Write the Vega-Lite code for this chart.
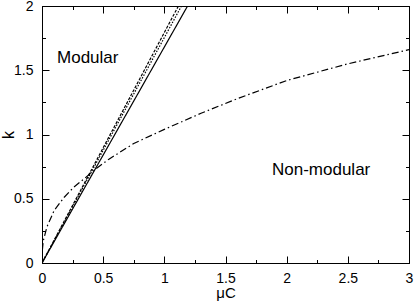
{
  "$schema": "https://vega.github.io/schema/vega-lite/v6.json",
  "width": 367,
  "height": 257,
  "autosize": "none",
  "padding": {"left": 42, "top": 6, "right": 6, "bottom": 38},
  "background": "white",
  "config": {
    "view": {"stroke": "black", "strokeWidth": 1},
    "font": "Liberation Sans",
    "axis": {
      "domainColor": "black",
      "tickColor": "black",
      "grid": false,
      "labelFont": "Liberation Sans",
      "labelFontSize": 14,
      "labelColor": "black",
      "titleFont": "Liberation Sans",
      "titleFontSize": 16,
      "titleFontWeight": "normal",
      "titleColor": "black"
    }
  },
  "datasets": {
    "lines": [
      {"mu": 0, "k": 0, "s": "solid"},
      {"mu": 1.19, "k": 2, "s": "solid"},
      {"mu": 0, "k": 0, "s": "dashA"},
      {"mu": 1.115, "k": 2, "s": "dashA"},
      {"mu": 0, "k": 0, "s": "dashB"},
      {"mu": 1.14, "k": 2, "s": "dashB"},
      {"mu": 0.003, "k": 0.1, "s": "dashdot"},
      {"mu": 0.01, "k": 0.17, "s": "dashdot"},
      {"mu": 0.04, "k": 0.28, "s": "dashdot"},
      {"mu": 0.1, "k": 0.41, "s": "dashdot"},
      {"mu": 0.18, "k": 0.51, "s": "dashdot"},
      {"mu": 0.26, "k": 0.59, "s": "dashdot"},
      {"mu": 0.35, "k": 0.66, "s": "dashdot"},
      {"mu": 0.45, "k": 0.74, "s": "dashdot"},
      {"mu": 0.55, "k": 0.81, "s": "dashdot"},
      {"mu": 0.75, "k": 0.93, "s": "dashdot"},
      {"mu": 1.0, "k": 1.04, "s": "dashdot"},
      {"mu": 1.3, "k": 1.165, "s": "dashdot"},
      {"mu": 1.6, "k": 1.28, "s": "dashdot"},
      {"mu": 2.0, "k": 1.42, "s": "dashdot"},
      {"mu": 2.5, "k": 1.55, "s": "dashdot"},
      {"mu": 3.0, "k": 1.66, "s": "dashdot"}
    ],
    "labels": [
      {"mu": 0.123, "k": 1.595, "t": "Modular"},
      {"mu": 1.88, "k": 0.724, "t": "Non-modular"}
    ]
  },
  "layer": [
    {
      "data": {"name": "lines"},
      "mark": {"type": "line", "color": "black", "strokeWidth": 1.2, "clip": true},
      "encoding": {
        "x": {
          "field": "mu", "type": "quantitative",
          "scale": {"domain": [0, 3], "nice": false, "zero": false},
          "axis": {
            "orient": "bottom",
            "title": "μC",
            "titleFontSize": 15,
            "titlePadding": -3,
            "values": [0, 0.25, 0.5, 0.75, 1, 1.25, 1.5, 1.75, 2, 2.25, 2.5, 2.75, 3],
            "labelExpr": "datum.value % 0.5 === 0 ? '' + datum.value : ''",
            "tickSize": {"condition": {"test": "datum.value % 0.5 === 0", "value": -7}, "value": -3.5},
            "labelPadding": 15,
            "labelFlush": false,
            "labelOverlap": false
          }
        },
        "y": {
          "field": "k", "type": "quantitative",
          "scale": {"domain": [0, 2], "nice": false, "zero": false},
          "axis": {
            "orient": "left",
            "title": "k",
            "titleAngle": -90,
            "titlePadding": -3,
            "values": [0, 0.25, 0.5, 0.75, 1, 1.25, 1.5, 1.75, 2],
            "labelExpr": "datum.value % 0.5 === 0 ? '' + datum.value : ''",
            "tickSize": {"condition": {"test": "datum.value % 0.5 === 0", "value": -7}, "value": -3.5},
            "labelPadding": 16,
            "labelFlush": false,
            "labelOverlap": false
          }
        },
        "detail": {"field": "s", "type": "nominal"},
        "strokeDash": {
          "field": "s", "type": "nominal",
          "scale": {"domain": ["solid", "dashA", "dashB", "dashdot"], "range": [[1, 0], [3, 1.5], [1.5, 1.5], [7, 3, 1.5, 3]]},
          "legend": null
        }
      }
    },
    {
      "data": {"name": "labels"},
      "mark": {"type": "text", "align": "left", "baseline": "middle", "fontSize": 17, "font": "Liberation Sans", "color": "black"},
      "encoding": {
        "x": {
          "field": "mu", "type": "quantitative",
          "scale": {"domain": [0, 3], "nice": false, "zero": false},
          "axis": {
            "orient": "top",
            "title": null,
            "labels": false,
            "values": [0, 0.25, 0.5, 0.75, 1, 1.25, 1.5, 1.75, 2, 2.25, 2.5, 2.75, 3],
            "tickSize": {"condition": {"test": "datum.value % 0.5 === 0", "value": -7}, "value": -3.5}
          }
        },
        "y": {
          "field": "k", "type": "quantitative",
          "scale": {"domain": [0, 2], "nice": false, "zero": false},
          "axis": {
            "orient": "right",
            "title": null,
            "labels": false,
            "values": [0, 0.25, 0.5, 0.75, 1, 1.25, 1.5, 1.75, 2],
            "tickSize": {"condition": {"test": "datum.value % 0.5 === 0", "value": -7}, "value": -3.5}
          }
        },
        "text": {"field": "t", "type": "nominal"}
      }
    }
  ],
  "resolve": {"axis": {"x": "independent", "y": "independent"}}
}
